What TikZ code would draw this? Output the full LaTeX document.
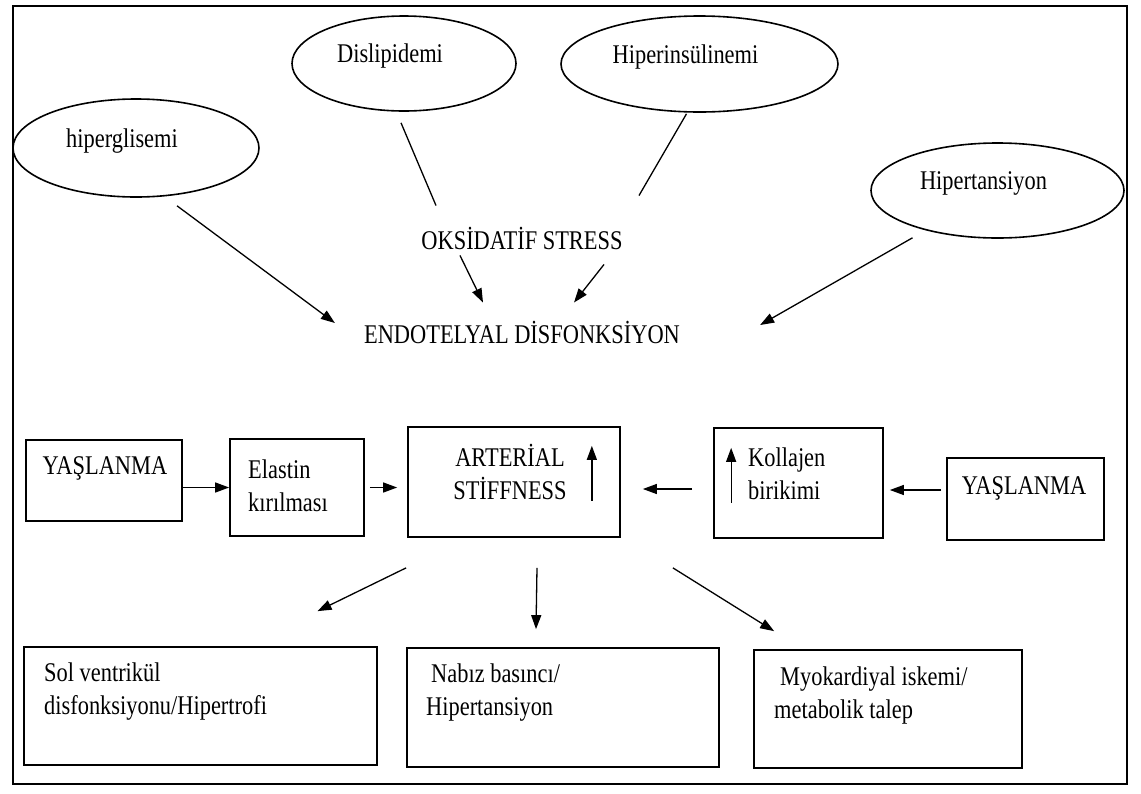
\documentclass[tikz,border=0pt]{standalone}
\usepackage{fontspec}
\setmainfont{Liberation Serif}[FakeStretch=0.83]
\usetikzlibrary{arrows.meta,positioning,shapes.geometric,calc}

\begin{document}
\begin{tikzpicture}[x=1pt,y=-1pt,
    every node/.style={font=\fontsize{27}{33}\selectfont,inner sep=0pt},
    bubble/.style={ellipse,draw,line width=1.6pt,label={[shift={(-14,-7)}]center:#1}},
    box/.style={draw,line width=1.7pt},
    link/.style={line width=1.3pt},
    arr/.style={line width=1.3pt,-{Triangle[length=14pt,width=10pt]}}]
      \useasboundingbox (0,0) rectangle (1141,793);
      \draw[line width=1.8pt] (13,6) rectangle (1127,784);
      % risk factors
      \node[bubble=hiperglisemi,minimum width=246pt,minimum height=98pt] (hip) at (136,148) {};
      \node[bubble=Dislipidemi,minimum width=224pt,minimum height=95pt] (dis) at (404,63.5) {};
      \node[bubble=Hiperinsülinemi,minimum width=277pt,minimum height=96pt] (hin) at (699.5,64) {};
      \node[bubble=Hipertansiyon,minimum width=253pt,minimum height=95pt] (hyp) at (997.5,190.5) {};
      \node (oks) at (522,238) {OKSİDATİF STRESS};
      \node (endo) at (522,332) {ENDOTELYAL DİSFONKSİYON};
      \draw[link] ($(dis.south)+(-3,11)$) -- ($(oks.north)+(-86,-21)$);
      \draw[link] ($(hin.south)+(-13,1)$) -- ($(oks.north)+(117,-31)$);
      \draw[arr] ($(oks.south)+(-62,6)$) -- ($(endo.north)+(-39,-18)$);
      \draw[arr] ($(oks.south)+(82,15)$) -- ($(endo.north)+(52,-18)$);
      \draw[arr] ($(hip.south)+(41,8)$) -- ($(endo.west)+(-29,-9)$);
      \draw[arr] ($(hyp.south)+(-85,-1)$) -- ($(endo.east)+(80,-7)$);
      % middle row
      \node[box,minimum width=156pt,minimum height=81pt] (yas1) at (104,480.5) {};
      \node[box,minimum width=134pt,minimum height=97pt] (ela) at (297,487.5) {};
      \node[box,minimum width=212pt,minimum height=110pt] (art) at (514,482) {};
      \node[box,minimum width=169pt,minimum height=110pt] (kol) at (798.5,483) {};
      \node[box,minimum width=157pt,minimum height=82pt] (yas2) at (1025.5,499) {};
      \node (yas1-t) at (105,468) {YAŞLANMA};
      \node[anchor=west,align=left] (ela-t) at (248,486) {Elastin\\kırılması};
      \node[align=center] (art-t) at (510,472) {ARTERİAL\\STİFFNESS};
      \node[anchor=west,align=left] (kol-t) at (748,474) {Kollajen\\birikimi};
      \node (yas2-t) at (1024,488) {YAŞLANMA};
      \draw[arr] ($(art.south east)+(-29,-37)$) -- ($(art.south east)+(-29,-92)$);
      \draw[arr] ($(kol.south west)+(18,-36)$) -- ($(kol.south west)+(18,-91)$);
      \draw[arr] (yas1.east |- ela) -- (ela.west);
      \draw[arr,shorten <=5pt,shorten >=10pt] (ela.east) -- (ela.east -| art.west);
      \draw[arr,shorten <=21pt,shorten >=22pt] ($(kol.west)+(0,6)$) -- ($(kol.west -| art.east)+(0,6)$);
      \draw[arr,shorten <=5pt,shorten >=6pt] ($(yas2.west)+(0,-9)$) -- ($(yas2.west -| kol.east)+(0,-9)$);
      % outcomes
      \node[box,minimum width=353pt,minimum height=118pt] (sol) at (200.5,706) {};
      \node[box,minimum width=312pt,minimum height=119pt] (nab) at (563,707.5) {};
      \node[box,minimum width=268pt,minimum height=118pt] (myo) at (888,709) {};
      \node[anchor=west,align=left] (sol-t) at (44,691.5) {Sol ventrikül\\disfonksiyonu/Hipertrofi};
      \node[anchor=west,align=left] (nab-t) at (426,692.5) {\hspace*{5pt}Nabız basıncı/\\Hipertansiyon};
      \node[anchor=west,align=left] (myo-t) at (774,695) {\hspace*{6pt}Myokardiyal iskemi/\\metabolik talep};
      \draw[arr] ($(art.south west)+(-1,30)$) -- ($(sol.north)+(117,-35)$);
      \draw[arr] ($(art.south)+(23,30)$) -- ($(nab.north)+(-27,-18)$);
      \draw[arr] ($(art.south east)+(52,30)$) -- ($(myo.north west)+(21,-18)$);
    \end{tikzpicture}
\end{document}
